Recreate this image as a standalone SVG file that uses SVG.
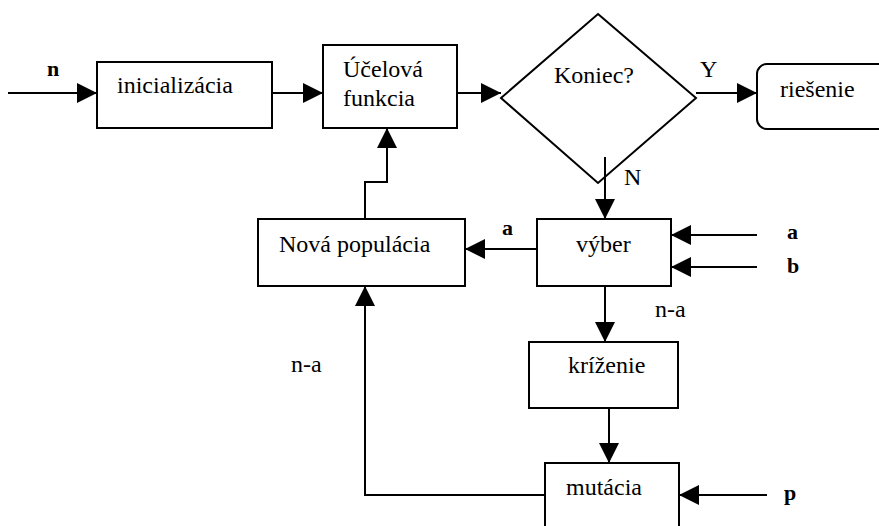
<svg xmlns="http://www.w3.org/2000/svg" width="879" height="526" viewBox="0 0 879 526">
<style>
.box{fill:#fff;stroke:#000;stroke-width:2}
.ln{fill:none;stroke:#000;stroke-width:2}
.arr{marker-end:url(#ah)}
text{font-family:"Liberation Serif","Times New Roman",serif;font-size:24px;fill:#000}
.b{font-weight:bold;font-size:22px}
</style>
<defs>
<marker id="ah" markerUnits="userSpaceOnUse" markerWidth="20" markerHeight="20" refX="20" refY="10" orient="auto">
<path d="M0,0 L20,10 L0,20 z" fill="#000"/>
</marker>
</defs>
<rect width="879" height="526" fill="#fff"/>
<g id="inicializacia">
<rect class="box" x="97" y="62" width="175" height="66"/>
<text x="117" y="93">inicializácia</text>
</g>
<g id="ucelova">
<rect class="box" x="323" y="45" width="134" height="83"/>
<text x="343" y="77">Účelová</text>
<text x="343" y="106">funkcia</text>
</g>
<g id="koniec">
<polygon class="box" points="598,14 696,98 598,183 501,98"/>
<text x="554" y="83">Koniec?</text>
</g>
<g id="riesenie">
<rect class="box" x="757" y="64" width="140" height="65" rx="10"/>
<text x="780" y="97">riešenie</text>
</g>
<g id="nova">
<rect class="box" x="258" y="219" width="207" height="67"/>
<text x="279" y="252">Nová populácia</text>
</g>
<g id="vyber">
<rect class="box" x="537" y="219" width="134" height="67"/>
<text x="576" y="252">výber</text>
</g>
<g id="krizenie">
<rect class="box" x="529" y="342" width="149" height="66"/>
<text x="568" y="373">kríženie</text>
</g>
<g id="mutacia">
<rect class="box" x="545" y="463" width="134" height="80"/>
<text x="566" y="495">mutácia</text>
</g>
<g id="connectors">
<line class="ln arr" x1="8" y1="93" x2="97" y2="93"/>
<line class="ln arr" x1="272" y1="93" x2="323" y2="93"/>
<line class="ln arr" x1="457" y1="93" x2="501" y2="93"/>
<line class="ln arr" x1="696" y1="93" x2="757" y2="93"/>
<line class="ln arr" x1="605" y1="157" x2="605" y2="219"/>
<line class="ln arr" x1="537" y1="249" x2="465" y2="249"/>
<line class="ln arr" x1="757" y1="235" x2="671" y2="235"/>
<line class="ln arr" x1="757" y1="267" x2="671" y2="267"/>
<line class="ln arr" x1="605" y1="286" x2="605" y2="342"/>
<line class="ln arr" x1="609" y1="408" x2="609" y2="463"/>
<line class="ln arr" x1="767" y1="495" x2="679" y2="495"/>
<polyline class="ln arr" points="545,495 365,495 365,286"/>
<polyline class="ln arr" points="365,219 365,182 387,182 387,128"/>
<text class="b" x="47" y="76">n</text>
<text x="700" y="77">Y</text>
<text x="624" y="185">N</text>
<text class="b" x="502" y="235">a</text>
<text class="b" x="787" y="239">a</text>
<text class="b" x="787" y="273">b</text>
<text x="655" y="317">n-a</text>
<text x="291" y="372">n-a</text>
<text class="b" x="784" y="500">p</text>
</g>
</svg>
